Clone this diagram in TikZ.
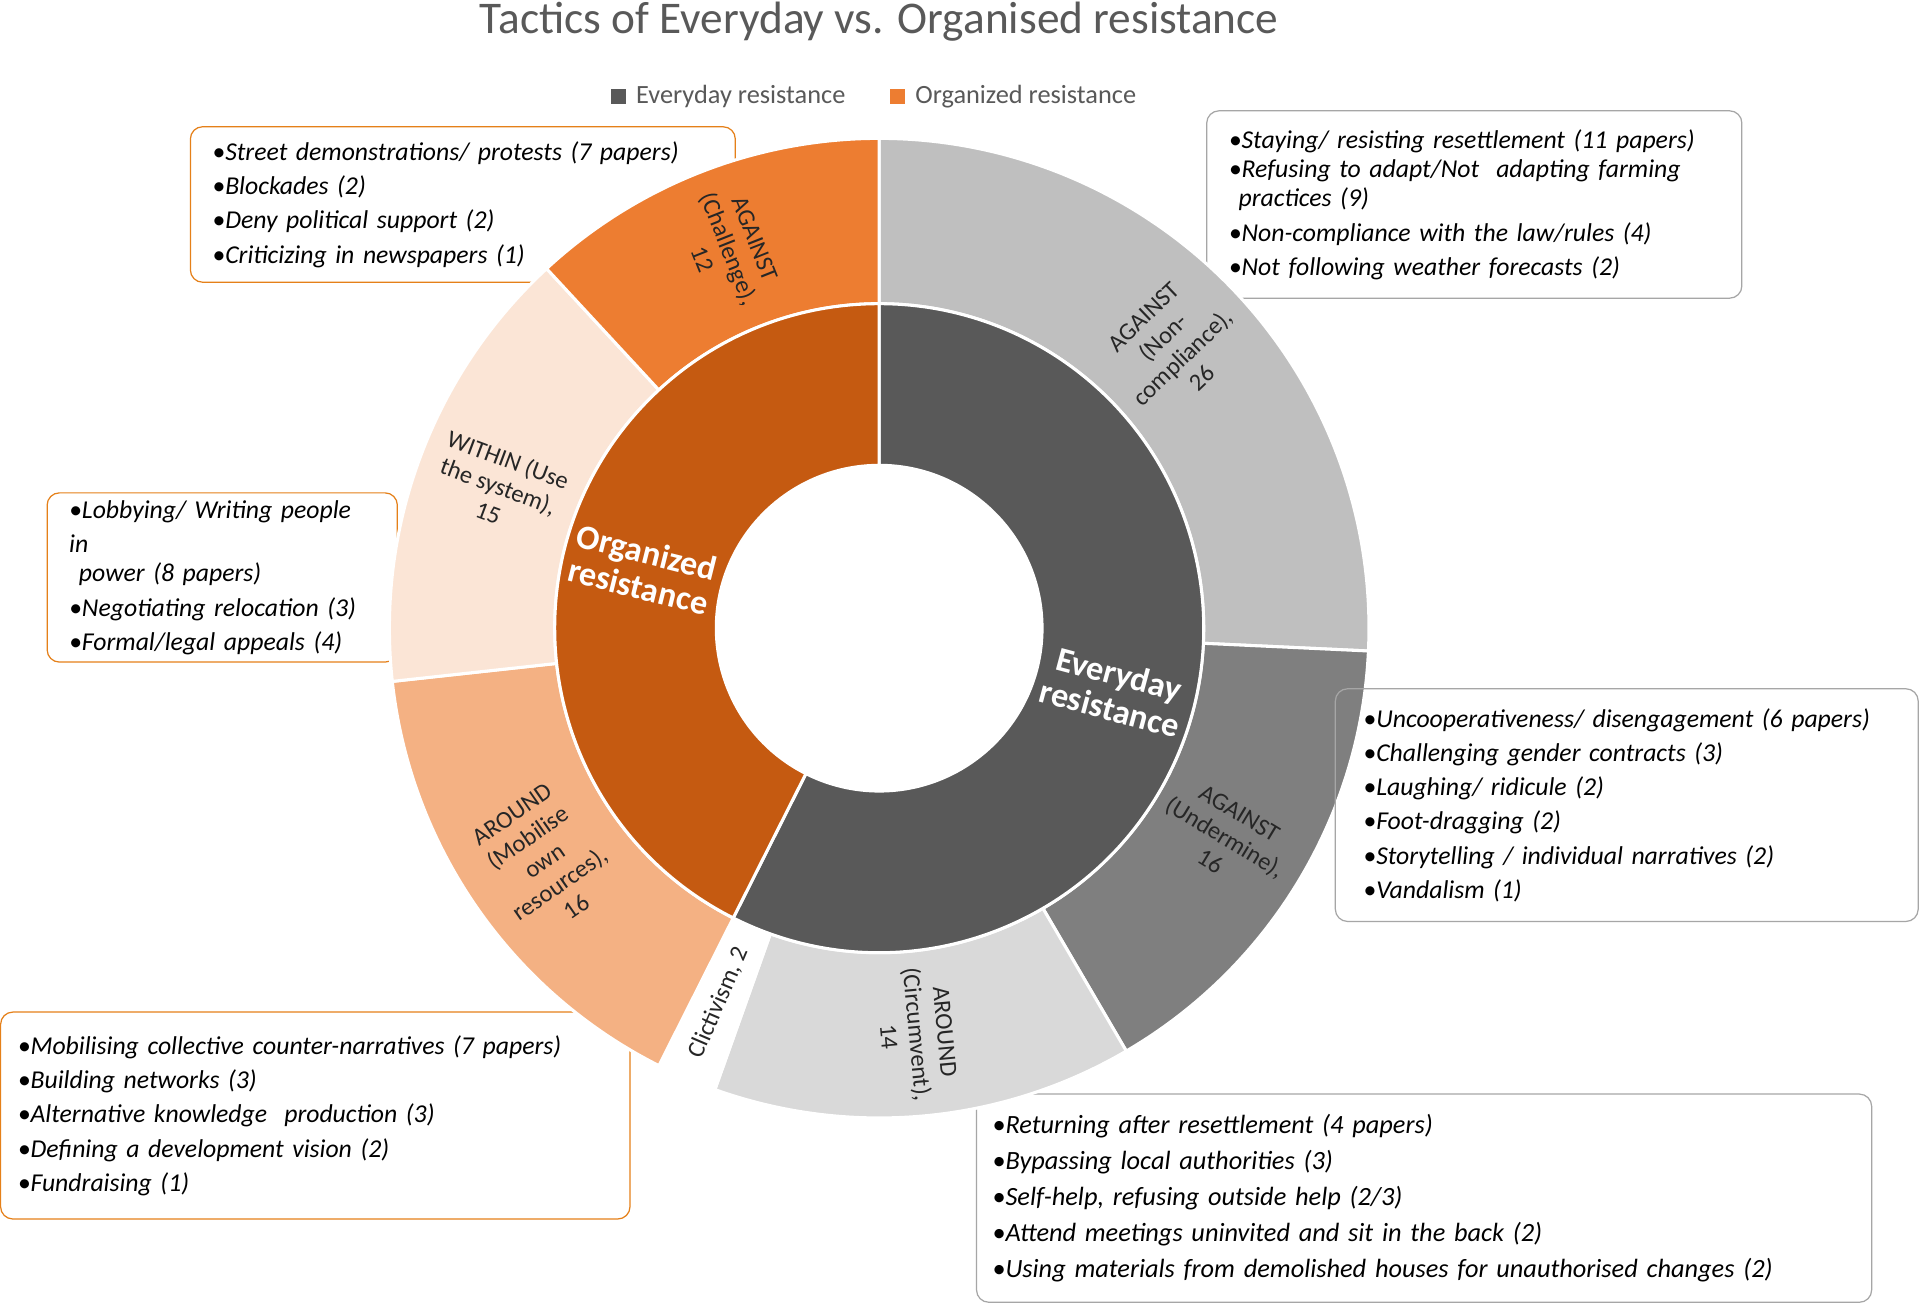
\documentclass[tikz,border=0pt]{standalone}
\usepackage{fontspec}
\setmainfont{Carlito}
\usetikzlibrary{calc}
\begin{document}
\begin{tikzpicture}[x=1pt,y=1pt,
  box/.style={draw, rounded corners=10pt, line width=1pt, anchor=north west, align=left, inner xsep=18pt, inner ysep=6pt, font=\fontsize{21}{28}\selectfont\itshape, text=black},
  obox/.style={box, draw=orange!60!brown},
  gbox/.style={box, draw=gray!70},
  olab/.style={align=center, font=\fontsize{20}{23}\selectfont, text=black!85},
  ilab/.style={align=center, font=\fontsize{28}{29}\selectfont\bfseries, text=white}]
\definecolor{c1}{HTML}{BFBFBF}\definecolor{c2}{HTML}{7F7F7F}\definecolor{c3}{HTML}{D9D9D9}
\definecolor{c4}{HTML}{FFFFFF}\definecolor{c5}{HTML}{F4B183}\definecolor{c6}{HTML}{FBE5D6}
\definecolor{c7}{HTML}{ED7D31}\definecolor{ie}{HTML}{595959}\definecolor{io}{HTML}{C55A11}
\useasboundingbox (0,0) rectangle (1568,-1066);
\fill[white] (0,0) rectangle (1568,-1066);
\coordinate (c) at (718,-513);
% boxes
\node[obox, minimum width=445pt, minimum height=127pt, text width=409pt] (b1) at (155,-103) {%
•Street demonstrations/ protests (7 papers)\\•Blockades (2)\\•Deny political support (2)\\•Criticizing in newspapers (1)};
\node[gbox, minimum width=437pt, minimum height=153pt, text width=401pt] (b2) at (985,-90) {%
•Staying/ resisting resettlement (11 papers)\\[-4pt]•Refusing to adapt/Not\ \ adapting farming\\[-4pt]\hspace*{8pt}practices (9)\\•Non-compliance with the law/rules (4)\\•Not following weather forecasts (2)};
\node[obox, minimum width=282pt, minimum height=126pt, text width=250pt, inner xsep=18pt] (b3) at (38,-402) {%
•Lobbying/ Writing people in\\[-4pt]\hspace*{8pt}power (8 papers)\\•Negotiating relocation (3)\\•Formal/legal appeals (4)};
\node[obox, minimum width=514pt, minimum height=169pt, text width=486pt, inner xsep=14pt] (b5) at (0,-826) {%
•Mobilising collective counter-narratives (7 papers)\\•Building networks (3)\\•Alternative knowledge\ \ production (3)\\•Defining a development vision (2)\\•Fundraising (1)};
\node[gbox, minimum width=731pt, minimum height=170pt, text width=705pt, inner xsep=13pt, font=\fontsize{21.5}{29.5}\selectfont\itshape] (b6) at (797,-893) {%
•Returning after resettlement (4 papers)\\•Bypassing local authorities (3)\\•Self-help, refusing outside help (2/3)\\•Attend meetings uninvited and sit in the back (2)\\•Using materials from demolished houses for unauthorised changes (2)};
% chart
\newcommand{\myseg}[5]{\fill[#5, draw=white, line width=2.5pt] ($(c)+(#1:#3)$) arc[start angle=#1, end angle=#2, radius=#3] -- ($(c)+(#2:#4)$) arc[start angle=#2, end angle=#1, radius=#4] -- cycle;}
\myseg{90}{-2.67}{265}{400}{c1}
\myseg{-2.67}{-59.70}{265}{400}{c2}
\myseg{-59.70}{-109.60}{265}{400}{c3}
\myseg{-109.60}{-116.73}{265}{400}{c4}
\myseg{-116.73}{-173.76}{265}{400}{c5}
\myseg{-173.76}{-227.23}{265}{400}{c6}
\myseg{-227.23}{-270}{265}{400}{c7}
\myseg{90}{-116.73}{133}{265}{ie}
\myseg{-116.73}{-270}{133}{265}{io}
\node[gbox, minimum width=476pt, minimum height=190pt, text width=450pt, inner xsep=13pt] (b4) at (1090,-562) {%
\hspace*{10pt}•Uncooperativeness/ disengagement (6 papers)\\\hspace*{10pt}•Challenging gender contracts (3)\\\hspace*{10pt}•Laughing/ ridicule (2)\\\hspace*{10pt}•Foot-dragging (2)\\\hspace*{10pt}•Storytelling / individual narratives (2)\\\hspace*{10pt}•Vandalism (1)};
% labels
\node[olab, rotate=-68.4] (l1) at ($(c)+(111.6:333)$) {AGAINST\\(Challenge),\\12};
\node[olab, rotate=43.7] (l2) at ($(c)+(43.7:332)$) {AGAINST\\(Non-\\compliance),\\26};
\node[olab, rotate=-20.5] (l3) at ($(c)+(159.5:332)$) {WITHIN (Use\\the system),\\15};
\node[olab, rotate=34.8] (l4) at ($(c)+(-145.2:333)$) {AROUND\\(Mobilise\\own\\resources),\\16};
\node[olab, rotate=-31.2] (l5) at ($(c)+(-31.2:330)$) {AGAINST\\(Undermine),\\16};
\node[olab, rotate=-84.7] (l6) at ($(c)+(-84.7:333)$) {AROUND\\(Circumvent),\\14};
\node[olab, rotate=66.8] (l7) at ($(c)+(-113.2:333)$) {Clictivism, 2};
\node[ilab, rotate=-14] (i1) at ($(c)+(166:199)$) {Organized\\resistance};
\node[ilab, rotate=-15] (i2) at ($(c)+(-15:199)$) {Everyday\\resistance};
% title and legend
\node[font=\fontsize{37}{39}\selectfont, text=ie] (t) at (718,-18) {Tactics of Everyday vs. Organised resistance};
\fill[ie] (499,-73) rectangle (511,-85);
\node[anchor=west, font=\fontsize{21.5}{23}\selectfont, text=ie] (lg1) at (516,-79) {Everyday resistance};
\fill[c7] (727,-73) rectangle (739,-85);
\node[anchor=west, font=\fontsize{21.5}{23}\selectfont, text=ie] (lg2) at (744,-79) {Organized resistance};
\end{tikzpicture}
\end{document}
